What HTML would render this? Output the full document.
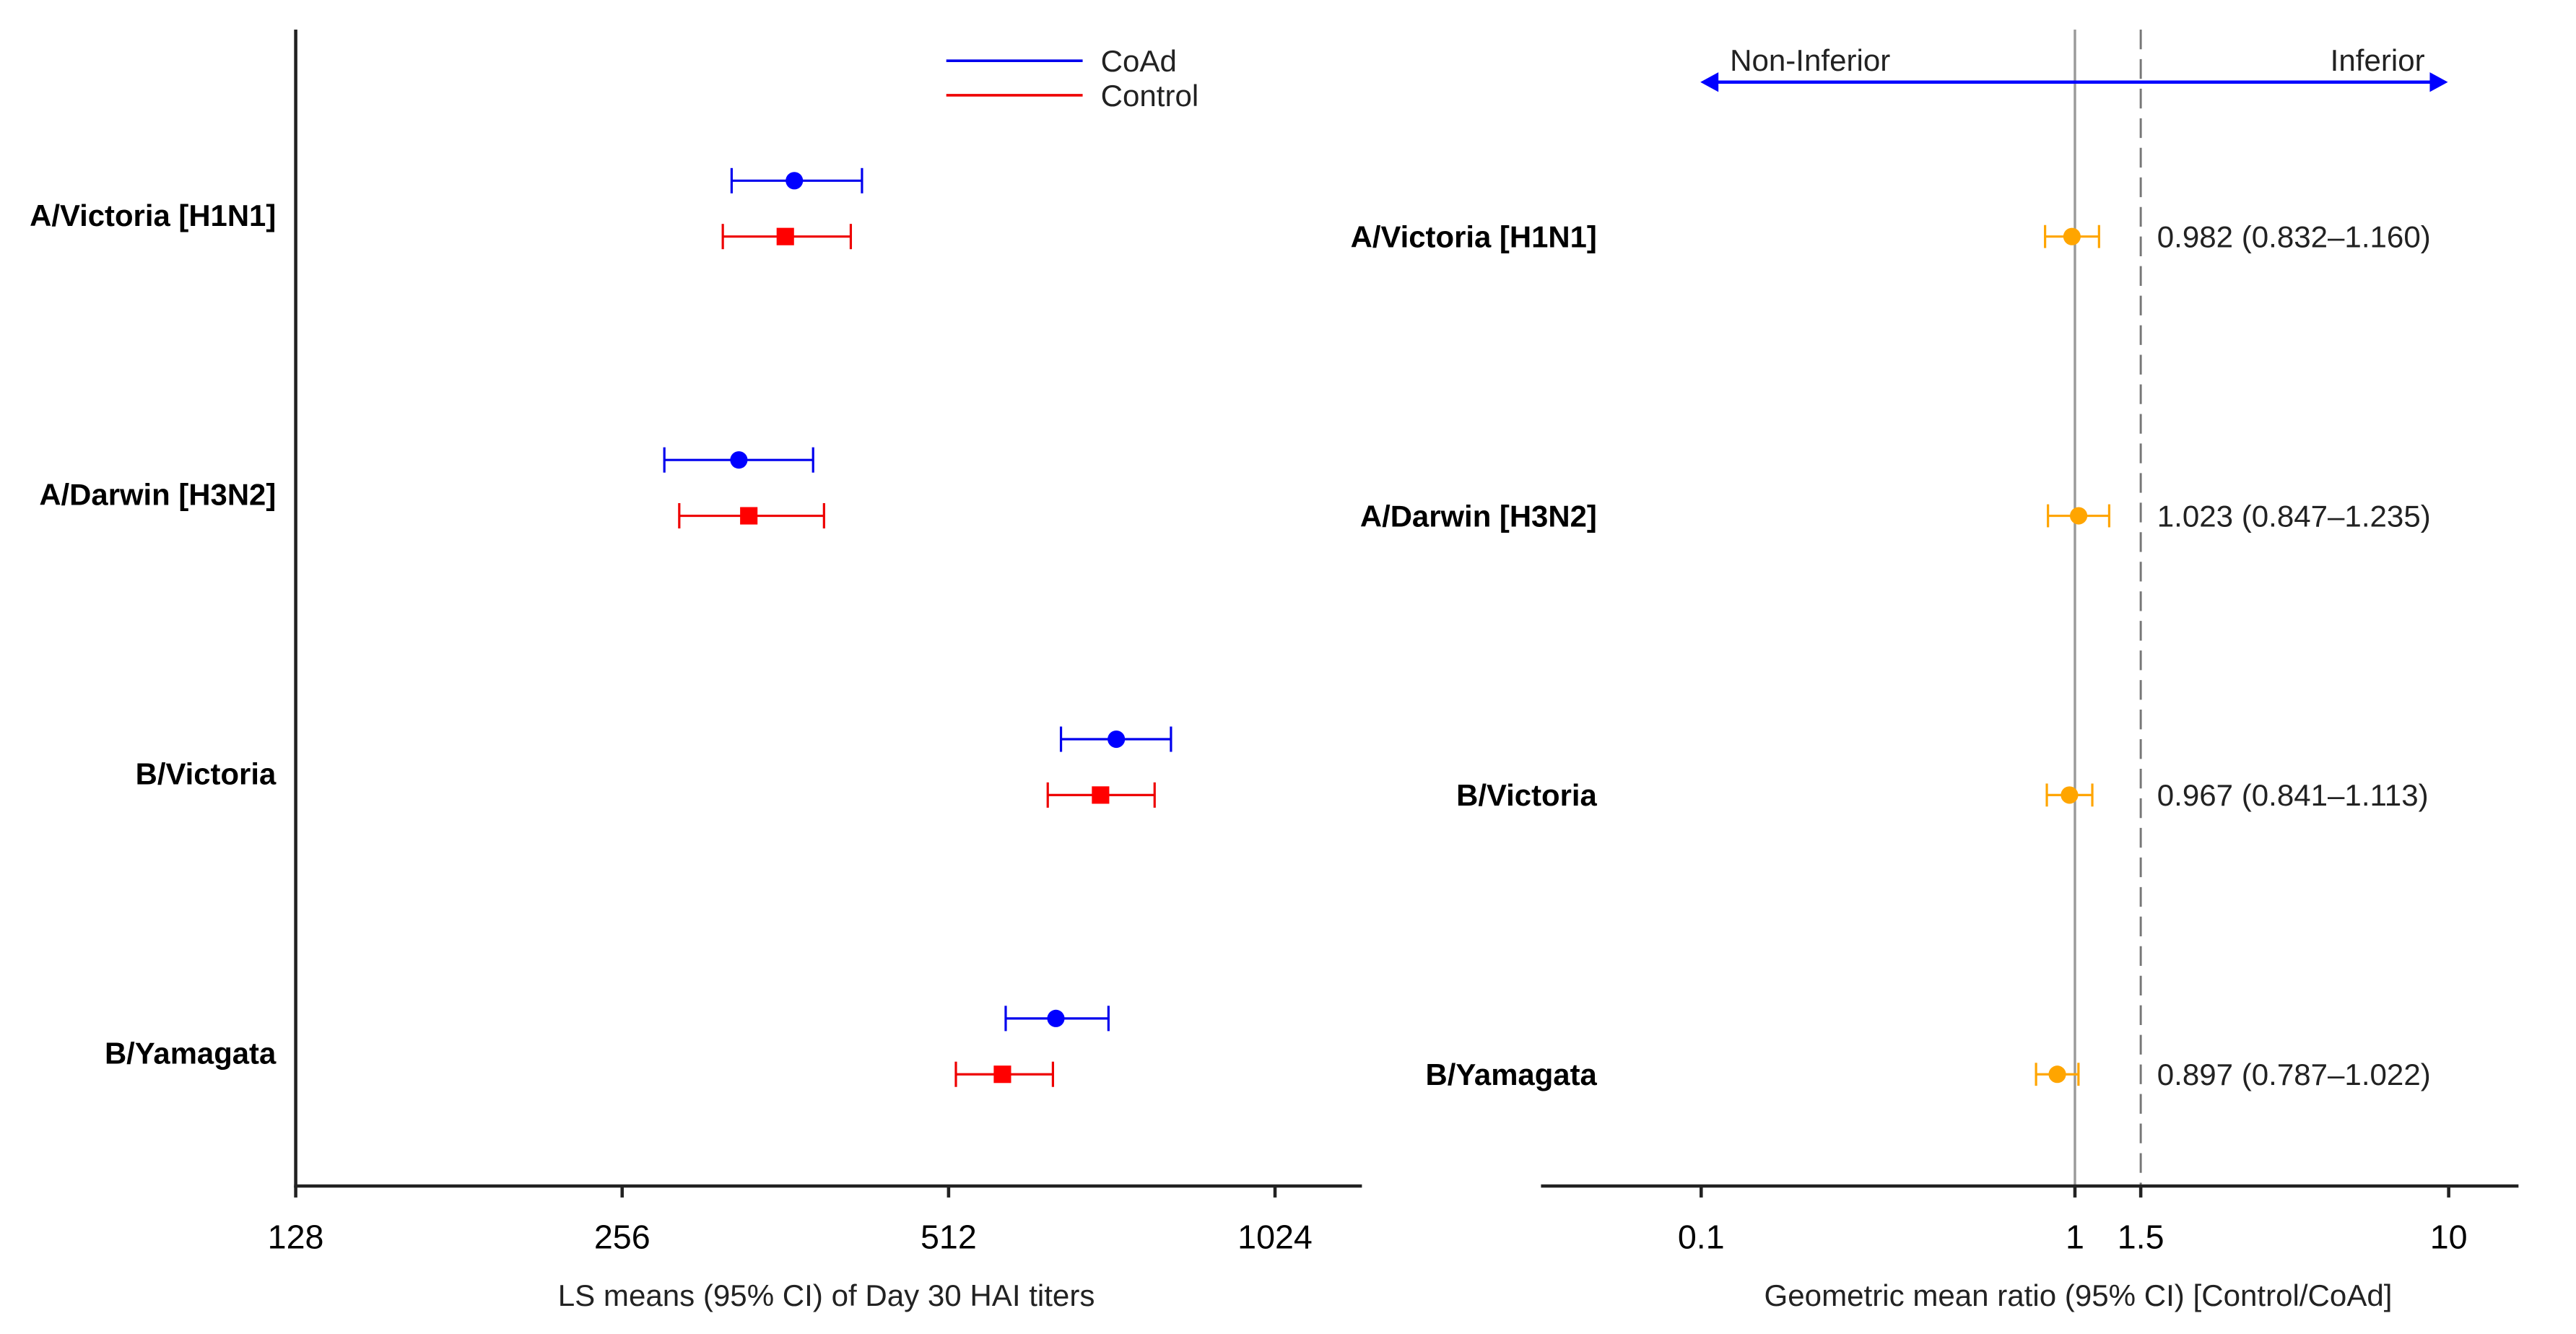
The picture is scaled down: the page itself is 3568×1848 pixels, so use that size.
<!DOCTYPE html>
<html><head><meta charset="utf-8"><style>
html,body{margin:0;padding:0;background:#fff;}
svg{display:block;font-family:"Liberation Sans",Arial,sans-serif;}
</style></head><body>
<svg id="chart" xmlns="http://www.w3.org/2000/svg" width="3568" height="1848" viewBox="0 0 1568 812.1" preserveAspectRatio="none">
<rect width="1568" height="812.1" fill="#fff"/>
<g id="left"></g>
<g id="right"></g>
</svg>
<script>
const strains = ["A/Victoria [H1N1]", "A/Darwin [H3N2]", "B/Victoria", "B/Yamagata"];
const coadMean = [369, 328, 731, 643];
const coadLo = [323, 280, 650, 578];
const coadHi = [426, 384, 821, 719];
const ctrlMean = [362, 335, 707, 574];
const ctrlLo = [317, 289, 632, 520];
const ctrlHi = [416, 393, 793, 639];
const leftTicks = [128, 256, 512, 1024];
const gmr = [0.982, 1.023, 0.967, 0.897];
const gmrLo = [0.832, 0.847, 0.841, 0.787];
const gmrHi = [1.160, 1.235, 1.113, 1.022];
const gmrText = ["0.982 (0.832\u20131.160)", "1.023 (0.847\u20131.235)", "0.967 (0.841\u20131.113)", "0.897 (0.787\u20131.022)"];
const rightTicks = [0.1, 1, 1.5, 10];

const NS = "http://www.w3.org/2000/svg";
function mk(parent, tag, attrs, text){
  const e = document.createElementNS(NS, tag);
  for (const k in attrs) e.setAttribute(k, attrs[k]);
  if (text !== undefined) e.textContent = text;
  parent.appendChild(e);
  return e;
}
const L = document.getElementById('left');
const R = document.getElementById('right');

const xL = v => 180 + Math.log2(v / 128) * 198.7;
const xR = v => 1263 + Math.log10(v) * 227.5;
const rowY = i => 127 + i * 170;
const axisY = 722;
const FT = 20.5, FL = 18.4, FV = 18.5, FA = 18.5;

let e;
e = mk(L, 'line', {x1:180, y1:18, x2:180, y2:axisY+1, stroke:'#222', 'stroke-width':2});


e = mk(L, 'line', {x1:179, y1:axisY, x2:829, y2:axisY, stroke:'#222', 'stroke-width':2});


leftTicks.forEach(t => {
  const x = xL(t);
  e = mk(L, 'line', {x1:x, y1:axisY, x2:x, y2:axisY+7, stroke:'#222', 'stroke-width':2});
  
  
  e = mk(L, 'text', {x:x, y:760, 'font-size':FT, 'text-anchor':'middle', fill:'#000'}, String(t));
  
  
});
e = mk(L, 'text', {x:503, y:795, 'font-size':FA, 'text-anchor':'middle', fill:'#222'}, 'LS means (95% CI) of Day 30 HAI titers');



function errbar(g, lo, hi, y, color, cap, name){
  const gg = mk(g, 'g', {});
  
  
  mk(gg, 'line', {x1:lo, y1:y, x2:hi, y2:y, stroke:color, 'stroke-width':1.4});
  mk(gg, 'line', {x1:lo, y1:y-cap, x2:lo, y2:y+cap, stroke:color, 'stroke-width':1.4});
  mk(gg, 'line', {x1:hi, y1:y-cap, x2:hi, y2:y+cap, stroke:color, 'stroke-width':1.4});
  return gg;
}
strains.forEach((s, i) => {
  const yc = rowY(i);
  e = mk(L, 'text', {x:168, y:yc+10.5, 'font-size':FL, 'font-weight':'bold', 'text-anchor':'end', fill:'#000'}, s);
  
  
  const yb = yc - 17, yr = yc + 17;
  errbar(L, xL(coadLo[i]), xL(coadHi[i]), yb, '#0000ee', 7.7, 'coad-ci');
  e = mk(L, 'circle', {cx:xL(coadMean[i]), cy:yb, r:5.3, fill:'#0000ff'});
  
  
  errbar(L, xL(ctrlLo[i]), xL(ctrlHi[i]), yr, '#ee0000', 7.7, 'control-ci');
  e = mk(L, 'rect', {x:xL(ctrlMean[i])-5.3, y:yr-5.3, width:10.6, height:10.6, fill:'#ff0000'});
  
  
});
const lg = mk(L, 'g', {});


e = mk(lg, 'line', {x1:576, y1:37, x2:659, y2:37, stroke:'#0000ee', 'stroke-width':1.6});


e = mk(lg, 'text', {x:670, y:43.5, 'font-size':FV, fill:'#222'}, 'CoAd');


e = mk(lg, 'line', {x1:576, y1:58, x2:659, y2:58, stroke:'#ee0000', 'stroke-width':1.6});


e = mk(lg, 'text', {x:670, y:64.5, 'font-size':FV, fill:'#222'}, 'Control');



e = mk(R, 'line', {x1:xR(1), y1:18, x2:xR(1), y2:axisY, stroke:'#999', 'stroke-width':1.5});


e = mk(R, 'line', {x1:xR(1.5), y1:18, x2:xR(1.5), y2:axisY, stroke:'#777', 'stroke-width':1.3, 'stroke-dasharray':'12,6'});


e = mk(R, 'line', {x1:938, y1:axisY, x2:1533, y2:axisY, stroke:'#222', 'stroke-width':2});


rightTicks.forEach(t => {
  const x = xR(t);
  e = mk(R, 'line', {x1:x, y1:axisY, x2:x, y2:axisY+7, stroke:'#222', 'stroke-width':2});
  
  
  e = mk(R, 'text', {x:x, y:760, 'font-size':FT, 'text-anchor':'middle', fill:'#000'}, String(t));
  
  
});
e = mk(R, 'text', {x:1265, y:795, 'font-size':FA, 'text-anchor':'middle', fill:'#222'}, 'Geometric mean ratio (95% CI) [Control/CoAd]');


const ar = mk(R, 'g', {});


mk(ar, 'line', {x1:1042, y1:50, x2:1483, y2:50, stroke:'#0000ff', 'stroke-width':2});
mk(ar, 'polygon', {points:'1035,50 1046,44 1046,56', fill:'#0000ff'});
mk(ar, 'polygon', {points:'1490,50 1479,44 1479,56', fill:'#0000ff'});
e = mk(R, 'text', {x:1053, y:43, 'font-size':FV, fill:'#222'}, 'Non-Inferior');


e = mk(R, 'text', {x:1476, y:43, 'font-size':FV, 'text-anchor':'end', fill:'#222'}, 'Inferior');



strains.forEach((s, i) => {
  const y = rowY(i) + 17;
  e = mk(R, 'text', {x:972, y:y+6.5, 'font-size':FL, 'font-weight':'bold', 'text-anchor':'end', fill:'#000'}, s);
  
  
  errbar(R, xR(gmrLo[i]), xR(gmrHi[i]), y, '#ffa500', 7, 'gmr-ci');
  e = mk(R, 'circle', {cx:xR(gmr[i]), cy:y, r:5.3, fill:'#ffa500'});
  
  
  e = mk(R, 'text', {x:1313, y:y+6.5, 'font-size':FV, fill:'#222'}, gmrText[i]);
  
  
});
</script>
</body></html>
